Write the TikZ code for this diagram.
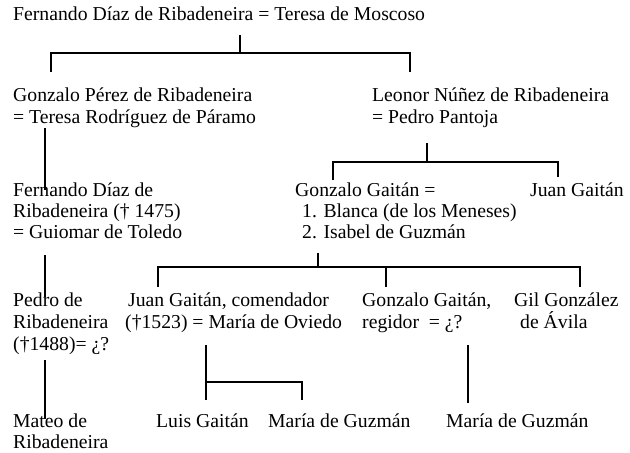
\documentclass[tikz,border=0pt]{standalone}
\usepackage{fontspec}
\setmainfont{Liberation Serif}
\begin{document}
\begin{tikzpicture}[x=1pt,y=-1pt,
  txt/.style={anchor=base west,inner sep=0pt,font=\fontsize{19.7}{21.5}\selectfont},
  ln/.style={line width=1.2pt,line cap=butt}]
\useasboundingbox (0,0) rectangle (630,453);
% texts
\node[txt] (fdr) at (13,20) {Fernando Díaz de Ribadeneira = Teresa de Moscoso};
\node[txt] (gp1) at (13,101) {Gonzalo Pérez de Ribadeneira};
\node[txt] (gp2) at (13,123) {= Teresa Rodríguez de Páramo};
\node[txt] (ln1) at (372,101) {Leonor Núñez de Ribadeneira};
\node[txt] (ln2) at (372,123) {= Pedro Pantoja};
\node[txt] (fd1) at (13,196) {Fernando Díaz de};
\node[txt] (fd2) at (13,217) {Ribadeneira († 1475)};
\node[txt] (fd3) at (13,238) {= Guiomar de Toledo};
\node[txt] (gg1) at (295,196) {Gonzalo Gaitán =};
\node[txt] (gg2) at (302,217) {1. Blanca (de los Meneses)};
\node[txt] (gg3) at (302,238) {2. Isabel de Guzmán};
\node[txt] (jg) at (530,196) {Juan Gaitán};
\node[txt] (pr1) at (13,306) {Pedro de};
\node[txt] (pr2) at (13,328) {Ribadeneira};
\node[txt] (pr3) at (13,350) {(†1488)= ¿?};
\node[txt] (jc1) at (128,306) {Juan Gaitán, comendador};
\node[txt] (jc2) at (125,328) {(†1523) = María de Oviedo};
\node[txt] (gr1) at (362,306) {Gonzalo Gaitán,};
\node[txt] (gr2) at (362,328) {regidor\ \ = ¿?};
\node[txt] (gl1) at (514,306) {Gil González};
\node[txt] (gl2) at (520,328) {de Ávila};
\node[txt] (mr1) at (13,427) {Mateo de};
\node[txt] (mr2) at (13,448) {Ribadeneira};
\node[txt] (lg) at (156,427) {Luis Gaitán};
\node[txt] (mg1) at (268,427) {María de Guzmán};
\node[txt] (mg2) at (446,427) {María de Guzmán};
% junction points
\coordinate (t0) at (240,35);  \coordinate (t1) at (240,53);
\coordinate (t2) at (51,53);   \coordinate (t3) at (51,72);
\coordinate (t4) at (410,53);  \coordinate (t5) at (410,72);
\coordinate (l0) at (45,128);  \coordinate (l1) at (45,190);
\coordinate (l2) at (45,255);  \coordinate (l3) at (45,297);
\coordinate (l4) at (45,360);  \coordinate (l5) at (45,419);
\coordinate (p0) at (427,143); \coordinate (p1) at (427,162);
\coordinate (p2) at (333,162); \coordinate (p3) at (333,180);
\coordinate (p4) at (558,162); \coordinate (p5) at (558,177);
\coordinate (i0) at (318,253); \coordinate (i1) at (318,267);
\coordinate (i2) at (158,267); \coordinate (i3) at (158,287);
\coordinate (i4) at (580,267); \coordinate (i5) at (580,287);
\coordinate (i6) at (386,267); \coordinate (i7) at (386,287);
\coordinate (j0) at (206,345); \coordinate (j1) at (206,400);
\coordinate (j2) at (206,382); \coordinate (j3) at (302,382);
\coordinate (j4) at (302,400);
\coordinate (g0) at (468,345); \coordinate (g1) at (468,403);
% connectors
\draw[ln] (t0) -- (t1);
\draw[ln] (t3) -- (t2) -- (t4) -- (t5);
\draw[ln] (l0) -- (l1);
\draw[ln] (l2) -- (l3);
\draw[ln] (l4) -- (l5);
\draw[ln] (p0) -- (p1);
\draw[ln] (p3) -- (p2) -- (p4) -- (p5);
\draw[ln] (i0) -- (i1);
\draw[ln] (i3) -- (i2) -- (i4) -- (i5);
\draw[ln] (i6) -- (i7);
\draw[ln] (j0) -- (j1);
\draw[ln] (j2) -- (j3) -- (j4);
\draw[ln] (g0) -- (g1);
\end{tikzpicture}
\end{document}
